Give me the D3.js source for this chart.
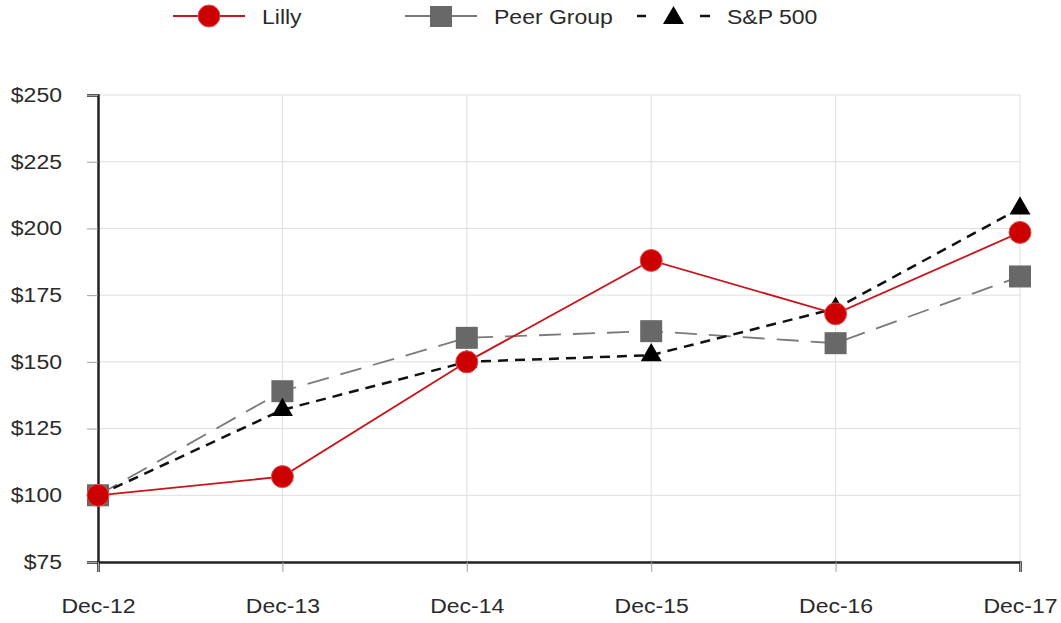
<!DOCTYPE html>
<html><head><meta charset="utf-8">
<script src="https://cdn.jsdelivr.net/npm/d3@7"></script>
<style>
body{margin:0;background:#fff;}
text{font-family:"Liberation Sans",Arial,sans-serif;fill:#2a2a2a;}
</style></head>
<body>
<svg id="chart" width="1061" height="623"></svg>
<script>
const categories = ["Dec-12","Dec-13","Dec-14","Dec-15","Dec-16","Dec-17"];
const lilly = [100, 107, 150, 188, 168, 198.5];
const peer = [100, 139, 159, 161.5, 157, 182];
const sp500 = [100, 132, 150, 152.5, 170, 207.5];
const yTicks = [75, 100, 125, 150, 175, 200, 225, 250];

const FS = 20, STRETCH = 1.15;
const svg = d3.select("#chart");
const m = {left: 98, right: 1020, top: 95, bottom: 562};
const x = d3.scalePoint().domain(categories).range([m.left, m.right]);
const y = d3.scaleLinear().domain([75, 250]).range([m.bottom, m.top]);

function stretch(sel) {
  sel.each(function() {
    const w = this.getComputedTextLength();
    d3.select(this).attr("textLength", w * STRETCH).attr("lengthAdjust", "spacingAndGlyphs");
  });
}

// grid
svg.append("g").selectAll("line").data(yTicks.slice(1)).join("line")
  .attr("x1", m.left).attr("x2", m.right)
  .attr("y1", d => y(d)).attr("y2", d => y(d))
  .attr("stroke", "#dedede").attr("stroke-width", 1);
svg.append("g").selectAll("line").data(categories.slice(1)).join("line")
  .attr("x1", d => x(d)).attr("x2", d => x(d))
  .attr("y1", m.top).attr("y2", m.bottom)
  .attr("stroke", "#dedede").attr("stroke-width", 1);

// axes
const yAxis = d3.axisLeft(y).tickValues(yTicks).tickSize(11).tickPadding(25)
  .tickFormat(d => "$" + d);
const gy = svg.append("g").attr("transform", `translate(${m.left},0)`).call(yAxis);
gy.attr("font-family", null).attr("font-size", null);
gy.select(".domain").attr("stroke", "#222").attr("stroke-width", 2.5);
gy.selectAll(".tick line").attr("stroke", "#a0a0a0");
gy.selectAll("text").attr("font-size", FS).attr("fill", "#2a2a2a").call(stretch);

const xAxis = d3.axisBottom(x).tickSize(10).tickPadding(27);
const gx = svg.append("g").attr("transform", `translate(0,${m.bottom})`).call(xAxis);
gx.attr("font-family", null).attr("font-size", null);
gx.select(".domain").attr("stroke", "#222").attr("stroke-width", 2.5);
gx.selectAll(".tick line").attr("stroke", "#a0a0a0");
gx.selectAll("text").attr("font-size", FS).attr("fill", "#2a2a2a").call(stretch);

const line = d3.line().x((d, i) => x(categories[i])).y(d => y(d));

// Peer group
svg.append("path").datum(peer).attr("d", line).attr("fill", "none")
  .attr("stroke", "#7a7a7a").attr("stroke-width", 1.8).attr("stroke-dasharray", "22,12");
svg.append("g").selectAll("rect").data(peer).join("rect")
  .attr("x", (d, i) => x(categories[i]) - 11).attr("y", d => y(d) - 11)
  .attr("width", 22).attr("height", 22).attr("fill", "#686868");

// S&P 500
svg.append("path").datum(sp500).attr("d", line).attr("fill", "none")
  .attr("stroke", "#111").attr("stroke-width", 2.5).attr("stroke-dasharray", "10,7");
const tri = d3.symbol().type(d3.symbolTriangle).size(190);
svg.append("g").selectAll("path").data(sp500).join("path")
  .attr("d", tri).attr("transform", (d, i) => `translate(${x(categories[i])},${y(d)})`)
  .attr("fill", "#000");

// Lilly
svg.append("path").datum(lilly).attr("d", line).attr("fill", "none")
  .attr("stroke", "#c8141c").attr("stroke-width", 1.8);
svg.append("g").selectAll("circle").data(lilly).join("circle")
  .attr("cx", (d, i) => x(categories[i])).attr("cy", d => y(d)).attr("r", 11)
  .attr("fill", "#cc0000").attr("stroke", "#e05050").attr("stroke-width", 1);

// legend
const lg = svg.append("g");
const ly = 16;
lg.append("line").attr("x1", 173).attr("x2", 245).attr("y1", ly).attr("y2", ly)
  .attr("stroke", "#c8141c").attr("stroke-width", 2);
lg.append("circle").attr("cx", 209).attr("cy", ly).attr("r", 11).attr("fill", "#cc0000")
  .attr("stroke", "#e05050");
lg.append("text").attr("x", 262).attr("y", ly + 8).attr("font-size", FS).text("Lilly").call(stretch);

lg.append("line").attr("x1", 405).attr("x2", 477).attr("y1", ly).attr("y2", ly)
  .attr("stroke", "#7a7a7a").attr("stroke-width", 1.8);
lg.append("rect").attr("x", 430).attr("y", ly - 10).attr("width", 22).attr("height", 21)
  .attr("fill", "#686868");
lg.append("text").attr("x", 494).attr("y", ly + 8).attr("font-size", FS).text("Peer Group").call(stretch);

lg.append("line").attr("x1", 637).attr("x2", 646).attr("y1", ly).attr("y2", ly)
  .attr("stroke", "#111").attr("stroke-width", 2.5);
lg.append("line").attr("x1", 700).attr("x2", 710).attr("y1", ly).attr("y2", ly)
  .attr("stroke", "#111").attr("stroke-width", 2.5);
lg.append("path").attr("d", tri).attr("transform", `translate(673.5,${ly + 2})`).attr("fill", "#000");
lg.append("text").attr("x", 727).attr("y", ly + 8).attr("font-size", FS).text("S&P 500").call(stretch);
</script>
</body></html>
